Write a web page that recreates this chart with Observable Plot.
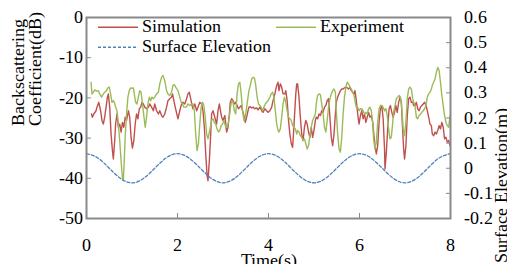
<!DOCTYPE html>
<html><head><meta charset="utf-8">
<script src="https://cdn.jsdelivr.net/npm/d3@7"></script>
<script src="https://cdn.jsdelivr.net/npm/@observablehq/plot@0.6"></script>
<style>
@font-face{font-family:"ChartSerif";src:local("Liberation Serif"),local("LiberationSerif"),local("LiberationSerif-Regular"),local("Tinos"),local("Tinos-Regular"),local("DejaVu Serif"),local("DejaVuSerif"),local("Noto Serif"),local("NotoSerif-Regular"),local("FreeSerif");}
body{margin:0;background:#fff}
#chart{position:relative;width:507px;height:264px;overflow:hidden}
#chart svg, #chart svg text, #chart svg tspan{font-family:"ChartSerif","Liberation Serif","Tinos","DejaVu Serif","Noto Serif","Times New Roman",serif !important;font-size:17.5px}
</style>
</head><body><div id="chart"></div>
<script>
// [time (s), backscattering coefficient (dB)]
const simulation = [[0.11,-24.0],[0.13,-24.8],[0.16,-24.0],[0.21,-23.2],[0.23,-22.3],[0.27,-21.1],[0.31,-23.2],[0.34,-25.6],[0.37,-26.5],[0.40,-24.8],[0.44,-21.5],[0.46,-19.8],[0.48,-19.0],[0.51,-22.3],[0.54,-29.0],[0.57,-33.1],[0.59,-35.2],[0.62,-30.6],[0.64,-26.5],[0.67,-24.0],[0.70,-27.3],[0.73,-26.5],[0.76,-28.5],[0.79,-26.1],[0.82,-27.3],[0.85,-24.8],[0.88,-25.6],[0.92,-23.2],[0.95,-24.8],[0.98,-29.8],[1.01,-32.5],[1.04,-30.6],[1.07,-26.5],[1.10,-24.0],[1.13,-25.2],[1.16,-22.7],[1.19,-22.3],[1.22,-21.1],[1.25,-21.5],[1.28,-22.3],[1.32,-22.7],[1.36,-22.3],[1.39,-21.5],[1.43,-22.3],[1.47,-23.2],[1.50,-21.5],[1.54,-23.2],[1.58,-24.0],[1.61,-23.2],[1.65,-24.4],[1.68,-24.8],[1.72,-24.0],[1.76,-22.3],[1.79,-20.7],[1.83,-20.2],[1.87,-19.8],[1.89,-19.0],[1.92,-20.7],[1.95,-22.3],
[2.01,-25.2],[2.05,-23.2],[2.09,-21.5],[2.12,-21.1],[2.16,-21.5],[2.20,-20.2],[2.23,-19.0],[2.26,-18.6],[2.29,-20.2],[2.32,-21.9],[2.34,-22.7],[2.38,-21.5],[2.42,-23.2],[2.45,-22.3],[2.49,-21.1],[2.53,-21.5],[2.56,-23.2],[2.59,-27.3],[2.62,-33.9],[2.65,-39.3],[2.67,-40.6],[2.70,-35.6],[2.73,-29.0],[2.75,-24.0],[2.78,-23.2],[2.82,-24.8],[2.86,-26.5],[2.89,-23.2],[2.92,-21.5],[2.95,-23.6],[2.97,-24.8],[3.00,-25.6],[3.04,-24.4],[3.08,-28.5],[3.11,-27.3],[3.14,-24.0],[3.16,-21.1],[3.19,-20.2],[3.22,-20.7],[3.25,-21.5],[3.28,-21.1],[3.31,-21.9],[3.34,-22.7],[3.37,-22.3],[3.40,-21.9],[3.43,-23.2],[3.46,-24.4],[3.49,-26.1],[3.52,-24.8],[3.55,-23.2],[3.57,-22.3],[3.60,-22.2],[3.63,-22.5],[3.66,-22.3],[3.70,-22.7],[3.74,-22.5],[3.77,-23.0],[3.81,-22.3],[3.85,-23.2],[3.88,-23.6],[3.92,-22.7],[3.96,-23.2],
[3.99,-23.6],[4.03,-23.2],[4.07,-22.3],[4.10,-20.7],[4.14,-19.0],[4.18,-16.9],[4.21,-16.1],[4.23,-18.2],[4.26,-16.5],[4.29,-17.3],[4.32,-19.0],[4.36,-19.0],[4.38,-18.2],[4.41,-20.7],[4.44,-25.6],[4.47,-29.0],[4.50,-31.4],[4.53,-32.3],[4.54,-30.6],[4.57,-24.8],[4.60,-19.0],[4.62,-16.5],[4.64,-16.5],[4.67,-19.8],[4.70,-24.8],[4.73,-29.0],[4.76,-30.6],[4.79,-27.3],[4.82,-25.6],[4.85,-26.5],[4.88,-28.5],[4.91,-29.8],[4.94,-27.3],[4.97,-29.8],[5.00,-28.1],[5.03,-25.6],[5.05,-24.8],[5.08,-25.2],[5.11,-24.0],[5.14,-24.4],[5.17,-23.2],[5.20,-23.6],[5.23,-22.3],[5.26,-21.9],[5.29,-20.7],[5.32,-20.2],[5.35,-24.8],[5.38,-29.8],[5.41,-31.9],[5.44,-29.0],[5.47,-24.0],[5.49,-21.1],[5.52,-19.8],[5.55,-19.0],[5.58,-18.2],[5.61,-17.8],[5.64,-17.8],[5.67,-17.5],[5.70,-17.3],[5.73,-17.5],[5.76,-17.8],[5.79,-17.3],[5.82,-18.2],[5.85,-18.6],[5.88,-19.0],[5.90,-18.2],[5.93,-20.7],
[5.96,-24.0],[5.99,-26.5],[6.02,-24.4],[6.05,-23.2],[6.08,-25.2],[6.11,-24.0],[6.14,-26.1],[6.17,-24.8],[6.20,-23.6],[6.23,-24.8],[6.26,-24.4],[6.29,-26.1],[6.31,-28.5],[6.34,-31.9],[6.37,-33.9],[6.40,-31.9],[6.43,-26.1],[6.46,-22.7],[6.49,-21.9],[6.52,-25.2],[6.55,-32.7],[6.56,-37.7],[6.59,-33.5],[6.62,-27.7],[6.65,-22.7],[6.68,-21.9],[6.71,-23.6],[6.74,-24.8],[6.77,-23.6],[6.80,-21.9],[6.83,-23.6],[6.86,-21.1],[6.89,-19.8],[6.92,-21.1],[6.94,-26.1],[6.97,-32.7],[6.99,-35.2],[7.02,-31.9],[7.05,-24.4],[7.08,-20.2],[7.11,-19.8],[7.14,-21.1],[7.17,-21.1],[7.19,-21.9],[7.22,-21.9],[7.25,-21.1],[7.28,-22.7],[7.31,-23.2],[7.34,-22.3],[7.37,-21.9],[7.40,-21.5],[7.43,-21.1],[7.46,-21.8],[7.49,-23.2],[7.52,-24.8],[7.55,-26.5],[7.58,-26.9],[7.60,-29.0],[7.63,-29.4],[7.66,-28.5],[7.69,-29.0],[7.72,-28.1],[7.75,-26.9],[7.78,-27.7],[7.81,-26.1],[7.84,-27.3],[7.87,-30.2],[7.90,-29.8],[7.93,-31.0],[7.96,-30.6],[7.99,-31.9]];

const experiment = [[0.10,-16.1],[0.12,-19.0],[0.15,-18.6],[0.18,-18.0],[0.22,-18.3],[0.26,-18.2],[0.29,-19.0],[0.33,-19.8],[0.37,-19.0],[0.40,-18.6],[0.44,-18.2],[0.47,-17.5],[0.50,-17.3],[0.53,-19.0],[0.56,-21.1],[0.59,-20.7],[0.62,-21.3],[0.64,-22.3],[0.67,-23.2],[0.70,-26.5],[0.73,-30.6],[0.76,-35.6],[0.79,-40.1],[0.81,-40.6],[0.83,-35.6],[0.85,-29.8],[0.88,-24.0],[0.91,-19.8],[0.94,-18.2],[0.97,-17.5],[1.00,-17.6],[1.03,-17.5],[1.05,-19.0],[1.08,-21.1],[1.11,-21.5],[1.14,-19.8],[1.17,-18.2],[1.20,-18.6],[1.23,-21.5],[1.26,-24.4],[1.29,-27.3],[1.32,-24.8],[1.35,-21.5],[1.38,-19.8],[1.41,-20.7],[1.44,-19.8],[1.47,-20.2],[1.50,-19.8],[1.54,-19.0],[1.58,-18.6],[1.61,-16.5],[1.65,-14.9],[1.68,-14.4],[1.72,-15.7],[1.76,-18.2],[1.79,-19.0],[1.83,-19.4],[1.87,-18.6],[1.90,-16.9],[1.93,-16.7],[1.96,-17.3],
[2.01,-18.2],[2.05,-19.8],[2.08,-21.1],[2.11,-21.5],[2.14,-22.3],[2.17,-22.3],[2.20,-22.2],[2.23,-21.5],[2.27,-21.9],[2.31,-21.5],[2.34,-21.5],[2.37,-23.2],[2.40,-29.0],[2.43,-33.1],[2.46,-31.4],[2.49,-26.5],[2.52,-22.3],[2.55,-21.1],[2.58,-21.9],[2.61,-24.8],[2.64,-29.0],[2.67,-30.2],[2.70,-28.5],[2.73,-26.9],[2.75,-25.6],[2.78,-25.2],[2.81,-26.1],[2.84,-26.5],[2.87,-27.7],[2.90,-28.5],[2.93,-28.1],[2.96,-26.9],[2.99,-26.5],[3.02,-25.6],[3.05,-26.9],[3.08,-27.3],[3.11,-26.5],[3.14,-24.8],[3.16,-22.7],[3.19,-20.7],[3.22,-21.1],[3.25,-23.2],[3.28,-24.0],[3.31,-19.0],[3.34,-16.5],[3.37,-16.1],[3.40,-19.0],[3.43,-23.2],[3.46,-25.6],[3.49,-24.8],[3.52,-22.3],[3.55,-19.8],[3.57,-18.2],[3.60,-16.9],[3.63,-15.3],[3.66,-14.9],[3.69,-15.0],[3.72,-16.9],[3.75,-19.8],[3.78,-21.5],[3.81,-21.9],[3.84,-22.3],[3.87,-23.2],[3.90,-22.3],[3.93,-21.5],[3.96,-21.1],
[3.99,-20.7],[4.03,-19.8],[4.06,-19.0],[4.09,-18.6],[4.12,-19.8],[4.15,-23.2],[4.18,-26.5],[4.21,-28.1],[4.23,-28.5],[4.26,-27.7],[4.29,-24.8],[4.32,-21.5],[4.35,-19.8],[4.38,-21.1],[4.41,-23.2],[4.44,-24.8],[4.47,-25.2],[4.50,-25.6],[4.53,-26.9],[4.56,-27.3],[4.59,-27.7],[4.62,-29.0],[4.64,-28.1],[4.67,-28.5],[4.70,-29.4],[4.73,-29.8],[4.76,-30.6],[4.79,-30.2],[4.82,-31.4],[4.85,-32.7],[4.88,-31.9],[4.91,-29.4],[4.94,-27.3],[4.97,-25.6],[5.00,-24.8],[5.03,-24.0],[5.05,-21.5],[5.08,-19.4],[5.11,-19.0],[5.14,-19.2],[5.17,-21.5],[5.20,-24.0],[5.23,-27.3],[5.26,-28.5],[5.29,-25.6],[5.32,-22.3],[5.35,-20.2],[5.38,-19.0],[5.41,-18.2],[5.44,-17.8],[5.47,-18.6],[5.49,-23.2],[5.52,-29.0],[5.55,-32.7],[5.58,-33.5],[5.61,-29.8],[5.64,-24.0],[5.67,-19.8],[5.70,-17.3],[5.73,-16.1],[5.76,-16.5],[5.79,-17.3],[5.82,-17.8],[5.85,-18.6],[5.88,-19.4],[5.90,-20.7],[5.93,-22.3],
[5.96,-22.3],[5.99,-23.2],[6.02,-22.7],[6.05,-22.7],[6.08,-23.2],[6.11,-24.0],[6.14,-23.6],[6.17,-24.0],[6.20,-22.7],[6.23,-22.3],[6.26,-23.2],[6.29,-26.1],[6.31,-30.2],[6.34,-32.7],[6.37,-31.0],[6.40,-26.1],[6.43,-22.7],[6.46,-21.9],[6.49,-21.9],[6.52,-22.3],[6.55,-23.2],[6.58,-22.7],[6.61,-24.4],[6.64,-27.7],[6.67,-30.2],[6.70,-29.8],[6.73,-26.1],[6.75,-23.6],[6.78,-21.9],[6.81,-20.2],[6.84,-19.8],[6.87,-19.4],[6.90,-19.8],[6.93,-22.7],[6.96,-27.7],[6.99,-29.4],[7.02,-26.1],[7.05,-20.2],[7.08,-17.8],[7.11,-17.3],[7.14,-17.8],[7.17,-20.2],[7.19,-21.1],[7.22,-21.9],[7.25,-24.8],[7.28,-25.2],[7.31,-24.4],[7.34,-24.0],[7.37,-23.6],[7.40,-23.2],[7.43,-22.7],[7.46,-21.9],[7.49,-19.8],[7.52,-19.0],[7.55,-18.6],[7.58,-17.8],[7.60,-16.9],[7.63,-16.1],[7.66,-15.3],[7.69,-13.6],[7.72,-12.4],[7.75,-13.2],[7.78,-16.1],[7.81,-19.4],[7.84,-21.9],[7.87,-24.4],[7.90,-26.1],[7.93,-26.9],[7.96,-27.3],[7.99,-24.4]];

// Surface elevation (m), sampled every 0.25 s
const elevTime = [0,0.25,0.5,0.75,1,1.25,1.5,1.75,2,2.25,2.5,2.75,3,3.25,3.5,3.75,4,4.25,4.5,4.75,5,5.25,5.5,5.75,6,6.25,6.5,6.75,7,7.25,7.5,7.75,8];
const elevation = [0.058,0.041,0,-0.041,-0.058,-0.041,0,0.041,0.058,0.041,0,-0.041,-0.058,-0.041,0,0.041,0.058,0.041,0,-0.041,-0.058,-0.041,0,0.041,0.058,0.041,0,-0.041,-0.058,-0.041,0,0.041,0.058];

const xTicks = [0,2,4,6,8];
const dbTicks = [0,-10,-20,-30,-40,-50];
const elevTicks = [-0.2,-0.1,0,0.1,0.2,0.3,0.4,0.5,0.6];
const seriesNames = ["Simulation","Experiment","Surface Elevation"];
const seriesColors = ["#c0504d","#9bbb59","#4f81bd"];
const xLabel = "Time(s)";
const yLabel = "Backscattering\nCoefficient(dB)";
const y2Label = "Surface Elevation(m)";

const axisGray = "#898989";
const FONT = "ChartSerif, Liberation Serif, Tinos, DejaVu Serif, Times New Roman, serif";

// secondary axis: elevation [-0.2, 0.6] m mapped onto dB [-50, 0]
const toDb = d3.scaleLinear().domain([-0.2, 0.6]).range([-50, 0]);
const elevRows = elevTime.map((t, i) => ({t, v: toDb(elevation[i])}));
const fmt = d => String(d);

const plot = Plot.plot({
  width: 507, height: 264,
  marginLeft: 86, marginRight: 57, marginTop: 17, marginBottom: 46,
  style: {fontFamily: FONT, fontSize: "17.5px", color: "#000", background: "#fff", overflow: "visible"},
  x: {domain: [0, 8]},
  y: {domain: [-50, 0]},
  marks: [
    Plot.line(simulation, {x: d => d[0], y: d => d[1], stroke: seriesColors[0], strokeWidth: 1.4}),
    Plot.line(experiment, {x: d => d[0], y: d => d[1], stroke: seriesColors[1], strokeWidth: 1.4}),
    Plot.line(elevRows, {x: "t", y: "v", stroke: seriesColors[2], strokeWidth: 1.3, strokeDasharray: "3,2", curve: "natural"}),
    // x axis
    Plot.axisX(xTicks, {anchor: "bottom", tickSize: 0, tickPadding: 20, tickFormat: fmt, label: null, fill: "#000"}),
    Plot.axisX(xTicks, {anchor: "bottom", tickSize: 5, dy: -5, tickFormat: () => "", label: null, stroke: axisGray}),
    // left axis
    Plot.axisY(dbTicks, {anchor: "left", tickSize: 0, tickPadding: 4, tickFormat: fmt, label: null, fill: "#000"}),
    Plot.axisY(dbTicks, {anchor: "left", tickSize: 5, dx: 5, tickFormat: () => "", label: null, stroke: axisGray}),
    // right axis
    Plot.axisY(elevTicks.map(toDb), {anchor: "right", tickSize: 0, tickPadding: 13,
      tickFormat: d => String(Math.round(toDb.invert(d) * 10) / 10), label: null, fill: "#000"}),
    Plot.axisY(elevTicks.map(toDb), {anchor: "right", tickSize: 5, dx: -5, tickFormat: () => "", label: null, stroke: axisGray}),
    // titles
    Plot.text([xLabel], {frameAnchor: "bottom", lineAnchor: "top", dy: 35, fill: "#000"}),
    Plot.text([yLabel], {frameAnchor: "left", rotate: -90, dx: -59.5, dy: 7.5, lineAnchor: "middle", lineHeight: 0.97, fill: "#000"}),
    Plot.text([y2Label], {frameAnchor: "right", rotate: -90, dx: 51, dy: -10, lineAnchor: "middle", fill: "#000"}),
    Plot.frame({stroke: axisGray, strokeWidth: 2})
  ]
});

// legend inside the frame
const svg = d3.select(plot);
const legendItems = [
  {name: seriesNames[0], color: seriesColors[0], dash: null, x: 98, y: 27.3},
  {name: seriesNames[1], color: seriesColors[1], dash: null, x: 276, y: 27.3},
  {name: seriesNames[2], color: seriesColors[2], dash: "3,2", x: 98, y: 47.3}
];
const lg = svg.append("g").attr("text-anchor", "start");
for (const it of legendItems) {
  const l = lg.append("line").attr("x1", it.x).attr("x2", it.x + 40).attr("y1", it.y).attr("y2", it.y)
    .attr("stroke", it.color).attr("stroke-width", 1.4);
  if (it.dash) l.attr("stroke-dasharray", it.dash);
  lg.append("text").attr("x", it.x + 44).attr("y", it.y + 5).attr("fill", "#000")
    .attr("text-anchor", "start").text(it.name);
}

document.getElementById("chart").appendChild(plot);
</script>
</body></html>
